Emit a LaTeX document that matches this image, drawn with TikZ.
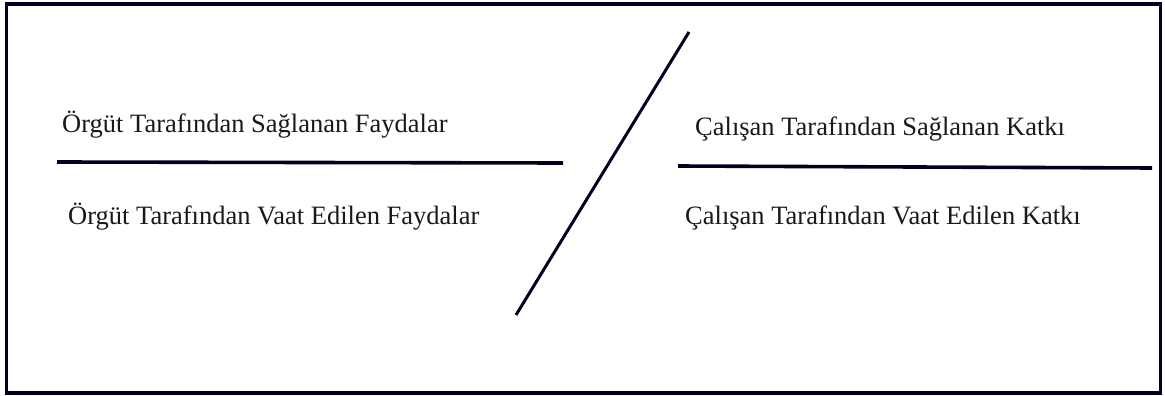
\documentclass[tikz,border=0pt]{standalone}
\usepackage{fontspec}
\setmainfont{Liberation Serif}
\begin{document}
\begin{tikzpicture}[x=1pt,y=-1pt,
  lbl/.style={anchor=base west,inner sep=0pt,font=\fontsize{26.5}{30}\selectfont,text=black!90},
  rule/.style={line width=3.6pt,color=black!88!blue},
  slash/.style={line width=3pt,color=black!88!blue}]
\useasboundingbox (0,0) rectangle (1165,396);
\draw[line width=3.2pt,color=black!88!blue] (6.5,4) rectangle (1160.5,393);
\node[lbl] (t1) at (62,132) {Örgüt Tarafından Sağlanan Faydalar};
\node[lbl] (t2) at (68,224) {Örgüt Tarafından Vaat Edilen Faydalar};
\node[lbl] (t3) at (695,135) {Çalışan Tarafından Sağlanan Katkı};
\node[lbl] (t4) at (685,224) {Çalışan Tarafından Vaat Edilen Katkı};
\coordinate (l1a) at (57,162);
\coordinate (l1b) at (563,163);
\coordinate (l2a) at (678,166);
\coordinate (l2b) at (1152,168);
\coordinate (d1) at (689,32);
\coordinate (d2) at (516,315);
\draw[rule] (l1a) -- (l1b);
\draw[rule] (l2a) -- (l2b);
\draw[slash] (d1) -- (d2);
\end{tikzpicture}
\end{document}
